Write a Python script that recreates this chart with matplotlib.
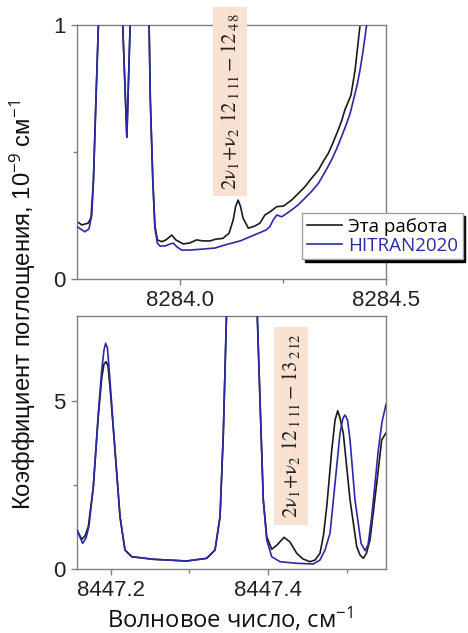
import matplotlib
matplotlib.use("Agg")
import matplotlib.pyplot as plt
from matplotlib.ticker import FixedLocator, FormatStrFormatter

# ---------------- data ----------------
top_x_this = [8283.750, 8283.762, 8283.777, 8283.784, 8283.790, 8283.796, 8283.802, 8283.815,
              8283.830, 8283.845, 8283.861, 8283.871, 8283.879, 8283.890, 8283.905, 8283.915,
              8283.925, 8283.928, 8283.934, 8283.939, 8283.945, 8283.956, 8283.966, 8283.980,
              8283.990, 8284.008, 8284.024, 8284.040, 8284.056, 8284.073, 8284.087, 8284.104,
              8284.119, 8284.129, 8284.135, 8284.141, 8284.147, 8284.153, 8284.166, 8284.182,
              8284.194, 8284.206, 8284.218, 8284.235, 8284.251, 8284.271, 8284.286, 8284.303,
              8284.320, 8284.336, 8284.347, 8284.360, 8284.371, 8284.384, 8284.393, 8284.400,
              8284.415, 8284.425, 8284.437, 8284.444]
top_y_this = [0.226, 0.213, 0.220, 0.240, 0.390, 0.705, 1.0, 2.0,
              3.0, 2.0, 1.0, 0.558, 1.0, 2.0, 3.0, 2.0,
              1.0, 0.705, 0.390, 0.213, 0.154, 0.147, 0.154, 0.173,
              0.154, 0.138, 0.142, 0.154, 0.150, 0.150, 0.157, 0.160,
              0.180, 0.232, 0.285, 0.311, 0.285, 0.240, 0.200, 0.209,
              0.220, 0.252, 0.264, 0.285, 0.287, 0.311, 0.335, 0.363,
              0.398, 0.429, 0.461, 0.495, 0.535, 0.587, 0.626, 0.665,
              0.724, 0.823, 1.0, 1.098]

top_x_hitran = [8283.750, 8283.769, 8283.779, 8283.786, 8283.790, 8283.796, 8283.802, 8283.815,
                8283.830, 8283.845, 8283.861, 8283.871, 8283.879, 8283.890, 8283.905, 8283.915,
                8283.925, 8283.928, 8283.934, 8283.939, 8283.945, 8283.951, 8283.964, 8283.976,
                8283.984, 8283.993, 8284.004, 8284.024, 8284.056, 8284.085, 8284.109, 8284.146,
                8284.190, 8284.209, 8284.218, 8284.226, 8284.235, 8284.247, 8284.257, 8284.271,
                8284.286, 8284.303, 8284.320, 8284.336, 8284.352, 8284.368, 8284.381, 8284.392,
                8284.403, 8284.413, 8284.421, 8284.430, 8284.437, 8284.444, 8284.453, 8284.459]
top_y_hitran = [0.206, 0.186, 0.197, 0.252, 0.390, 0.705, 1.0, 2.0,
                3.0, 2.0, 1.0, 0.558, 1.0, 2.0, 3.0, 2.0,
                1.0, 0.705, 0.390, 0.201, 0.142, 0.130, 0.130, 0.138,
                0.141, 0.126, 0.114, 0.114, 0.118, 0.122, 0.134, 0.150,
                0.180, 0.193, 0.206, 0.232, 0.252, 0.245, 0.256, 0.272,
                0.291, 0.318, 0.346, 0.377, 0.421, 0.469, 0.516, 0.560,
                0.606, 0.652, 0.705, 0.764, 0.823, 0.894, 1.0, 1.08]

bot_x_this = [8447.1567, 8447.1627, 8447.1669, 8447.1711, 8447.1775, 8447.1838, 8447.1882, 8447.1911,
              8447.1937, 8447.1962, 8447.1987, 8447.2051, 8447.2115, 8447.2178, 8447.2264, 8447.2539,
              8447.2964, 8447.3219, 8447.3325, 8447.3389, 8447.3431, 8447.3465, 8447.3490, 8447.3660,
              8447.3840, 8447.3864, 8447.3898, 8447.3940, 8447.3984, 8447.4047, 8447.4115, 8447.4204,
              8447.4280, 8447.4366, 8447.4446, 8447.4535, 8447.4599, 8447.4662, 8447.4707, 8447.4748,
              8447.4812, 8447.4854, 8447.4888, 8447.4917, 8447.4959, 8447.5045, 8447.5130, 8447.5172,
              8447.5214, 8447.5255, 8447.5299, 8447.5385, 8447.5448, 8447.5503]
bot_y_this = [1.161, 0.884, 0.982, 1.259, 2.449, 4.533, 5.685, 6.101,
              6.170, 6.042, 5.426, 3.542, 1.557, 0.565, 0.366, 0.289,
              0.238, 0.318, 0.565, 1.557, 4.048, 7.024, 9.0, 12.0,
              9.0, 7.509, 5.030, 2.054, 0.961, 0.586, 0.714, 0.943,
              0.804, 0.467, 0.298, 0.217, 0.268, 0.467, 1.012, 1.854,
              3.542, 4.435, 4.711, 4.494, 4.039, 2.054, 0.664, 0.417,
              0.318, 0.476, 0.863, 2.551, 3.839, 4.05]

bot_x_hitran = [8447.1567, 8447.1639, 8447.1682, 8447.1720, 8447.1775, 8447.1838, 8447.1882, 8447.1911,
                8447.1932, 8447.1955, 8447.1987, 8447.2051, 8447.2115, 8447.2178, 8447.2264, 8447.2539,
                8447.2964, 8447.3219, 8447.3325, 8447.3389, 8447.3431, 8447.3465, 8447.3490, 8447.3660,
                8447.3840, 8447.3864, 8447.3898, 8447.3940, 8447.3984, 8447.4047, 8447.4153, 8447.4366,
                8447.4577, 8447.4662, 8447.4726, 8447.4790, 8447.4854, 8447.4917, 8447.4955, 8447.4981,
                8447.5013, 8447.5045, 8447.5108, 8447.5185, 8447.5236, 8447.5274, 8447.5321, 8447.5405,
                8447.5452, 8447.5503]
bot_y_hitran = [1.161, 0.765, 0.923, 1.280, 2.449, 4.613, 5.923, 6.518,
                6.717, 6.577, 5.625, 3.542, 1.557, 0.565, 0.366, 0.289,
                0.238, 0.318, 0.565, 1.557, 4.048, 7.024, 9.0, 12.0,
                9.0, 7.509, 5.030, 2.054, 0.863, 0.366, 0.217, 0.170,
                0.149, 0.268, 0.565, 1.062, 2.551, 4.039, 4.494, 4.583,
                4.435, 3.839, 2.054, 0.765, 0.545, 0.714, 1.557, 3.542,
                4.375, 4.9]

series_labels = ["Эта работа", "HITRAN2020"]
top_xlim = (8283.75, 8284.5)
top_ylim = (0, 1)
top_xticks = [8284.0, 8284.5]
top_xminor = [8284.25]
top_yticks = [0, 1]
top_yminor = [0.5]
bot_xlim = (8447.1567, 8447.5503)
bot_ylim = (0, 7.53)
bot_xticks = [8447.2, 8447.4]
bot_xminor = [8447.3, 8447.5]
bot_yticks = [0, 5]
bot_yminor = [2.5]
top_note = r"$\mathrm{2ν_1\!+\!ν_2\ 12_{\,1\;11} - 12_{\,4\,8}}$"
bot_note = r"$\mathrm{2ν_1\!+\!ν_2\ 12_{\,1\;11} - 13_{\,2\,12}}$"
top_note_pos = (8284.121, 0.70)
bot_note_pos = (8447.429, 4.256)
ylabel = r"Коэффициент поглощения, 10$^{-9}$ см$^{-1}$"
xlabel = r"Волновое число, см$^{-1}$"

# ---------------- style ----------------
plt.rcParams["mathtext.fontset"] = "custom"
plt.rcParams["mathtext.rm"] = "Open Sans"
plt.rcParams["mathtext.it"] = "Open Sans:italic"
plt.rcParams["mathtext.bf"] = "Open Sans:bold"

BLACK = "#1a1a1a"
BLUE = "#2a2aa6"
SPINE = "#808080"
PEACH = "#f9e2d2"

fig = plt.figure(figsize=(4.68, 6.33), dpi=100)
ax1 = fig.add_axes([0.1645, 0.5592, 0.6603, 0.4013])
ax2 = fig.add_axes([0.1645, 0.1011, 0.6603, 0.3997])


def style(ax, xlim, ylim, xt, xm, yt, ym):
    ax.set_xlim(*xlim)
    ax.set_ylim(*ylim)
    ax.xaxis.set_major_locator(FixedLocator(xt))
    ax.xaxis.set_minor_locator(FixedLocator(xm))
    ax.yaxis.set_major_locator(FixedLocator(yt))
    ax.yaxis.set_minor_locator(FixedLocator(ym))
    ax.xaxis.set_major_formatter(FormatStrFormatter("%.1f"))
    ax.yaxis.set_major_formatter(FormatStrFormatter("%g"))
    for s in ax.spines.values():
        s.set_color(SPINE)
        s.set_linewidth(1.0)
    ax.tick_params(which="major", direction="out", length=4, width=1, color=SPINE,
                   labelsize=16, labelcolor="#222222", pad=4)
    ax.tick_params(which="minor", direction="out", length=3, width=1, color=SPINE)
    for lab in ax.get_xticklabels() + ax.get_yticklabels():
        lab.set_fontfamily("Liberation Sans")


l1, = ax1.plot(top_x_this, top_y_this, color=BLACK, lw=1.2, label=series_labels[0], zorder=2)
l2, = ax1.plot(top_x_hitran, top_y_hitran, color=BLUE, lw=1.2, label=series_labels[1], zorder=3)
ax2.plot(bot_x_this, bot_y_this, color=BLACK, lw=1.2, zorder=2)
ax2.plot(bot_x_hitran, bot_y_hitran, color=BLUE, lw=1.2, zorder=3)

style(ax1, top_xlim, top_ylim, top_xticks, top_xminor, top_yticks, top_yminor)
style(ax2, bot_xlim, bot_ylim, bot_xticks, bot_xminor, bot_yticks, bot_yminor)

for ax, txt, pos in [(ax1, top_note, top_note_pos), (ax2, bot_note, bot_note_pos)]:
    ax.text(pos[0], pos[1], txt, rotation=90, ha="center", va="center",
            fontsize=15, math_fontfamily="stix", color="#222222", clip_on=False, zorder=5,
            bbox=dict(boxstyle="square,pad=0.3", facecolor=PEACH, edgecolor="none"))

leg = ax1.legend(handles=[l1, l2], loc="upper left",
                 bbox_to_anchor=(302 / 468, 1 - 213 / 633), bbox_transform=fig.transFigure,
                 prop={"family": "Open Sans", "size": 13.5}, frameon=True, fancybox=False,
                 shadow={"color": "black", "alpha": 1.0}, edgecolor="#a0a0a0",
                 handlelength=1.9, handletextpad=0.3, borderpad=0.25, labelspacing=0.05,
                 borderaxespad=0)
leg.get_frame().set_linewidth(1.0)
leg.get_texts()[1].set_color(BLUE)
leg.set_zorder(10)

fig.text(0.05, 0.518, ylabel, rotation=90, ha="center", va="center",
         fontsize=17.2, family="Liberation Sans", color="#111111")
fig.text(0.491, 0.021, xlabel, ha="center", va="center",
         fontsize=17, family="Open Sans", color="#111111")

fig.savefig("out.png", dpi=100)
